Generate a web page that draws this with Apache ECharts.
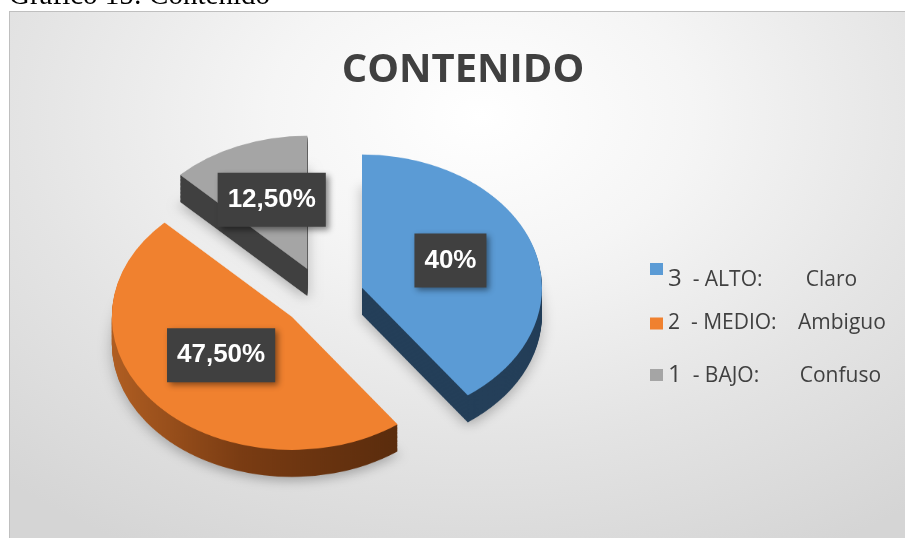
<!DOCTYPE html>
<html><head><meta charset="utf-8">
<script src="https://cdn.jsdelivr.net/npm/echarts@6/dist/echarts.min.js"></script>
<style>
html,body{margin:0;padding:0;background:#fff;width:905px;height:538px;overflow:hidden}
#frame{position:absolute;left:9px;top:11px;width:940px;height:580px;border:1px solid #BFBFBF;
 background:radial-gradient(ellipse 75% 85% at 50% 18%, #ffffff 0%, #f5f5f5 30%, #e4e4e4 65%, #d5d5d5 100%);}
#pie{position:absolute;left:0;top:0;width:905px;height:737px;transform:scaleY(0.74);transform-origin:0 0}
#main{position:absolute;left:0;top:0;width:905px;height:538px}
</style></head>
<body>
<div id="frame"></div>
<div id="pie"></div>
<div id="main"></div>
<script>
// ---- data ----
const digits = ['3', '2', '1'];
const levels = ['- ALTO:', '- MEDIO:', '- BAJO:'];
const descs = ['Claro', 'Ambiguo', 'Confuso'];
const names = ['3  - ALTO:      Claro', '2 - MEDIO:   Ambiguo', '1  - BAJO:    Confuso'];
const values = [40, 47.5, 12.5];
const valueLabels = ['40%', '47,50%', '12,50%'];
const titleText = 'CONTENIDO';
const captionText = 'Gráfico 15: Contenido';

// ---- style ----
const K = 0.74;            // vertical tilt of the 3D pie
const CX = 323, CY = 297;  // screen centre of the pie
const LCY = 291;           // centre used for placing the value boxes
const R = 180, OFF = 41, DEPTH = 27;
const topColors = ['#5B9BD5', '#F0812F', '#A5A5A5'];
const sideColors = [
  '#243F59',
  {type:'linear', x:0, y:0, x2:1, y2:0, colorStops:[
    {offset:0, color:'#B05E22'}, {offset:0.45, color:'#7A3C13'}, {offset:1, color:'#5A2C0D'}]},
  '#404040'
];

function pieSeries(cy, colors, z) {
  return {
    type:'pie', center:[CX, cy], radius:R, startAngle:90, clockwise:true,
    selectedMode:'multiple', selectedOffset:OFF, silent:true, animation:false,
    emphasis:{disabled:true}, label:{show:false}, labelLine:{show:false}, z:z,
    data: values.map((v,i)=>({value:v, name:names[i], selected:true,
      itemStyle:{color:colors[i], borderWidth:0}}))
  };
}

// pie drawn in a tilted (vertically squeezed) layer
const pieChart = echarts.init(document.getElementById('pie'), null, {renderer:'canvas'});
const cyA = CY / K;
const depthA = DEPTH / K;
const layers = [];
const steps = 30;
for (let s = steps; s >= 1; s--) {
  const ser = pieSeries(cyA + depthA * s / steps, sideColors, 2);
  if (s === steps) ser.data.forEach(d => {
    d.itemStyle.shadowBlur = 14; d.itemStyle.shadowColor = 'rgba(0,0,0,0.25)'; d.itemStyle.shadowOffsetY = 6;
  });
  layers.push(ser);
}
layers.push(pieSeries(cyA, topColors, 5));
pieChart.setOption({backgroundColor:'transparent', animation:false, series: layers});

// title, legend, labels in a normal layer
const chart = echarts.init(document.getElementById('main'), null, {renderer:'canvas'});
const aWidths = [124, 118, 118];
const digitSizes = [24, 21, 24];
const legendTops = [263, 313, 363];
const textPads = [[20,0,0,0], [0,0,0,0], [0,0,0,0]];
chart.setOption({
  backgroundColor:'transparent',
  animation:false,
  title:{text:titleText, left:463, top:51, textAlign:'center', padding:0,
    textStyle:{fontFamily:'Open Sans', fontWeight:'bold', fontSize:40, color:'#404040'}},
  graphic:[{type:'text', x:9, y:-4, silent:true,
    style:{text:captionText, fontFamily:'Liberation Serif', fontSize:29, fill:'#000', verticalAlign:'middle'}}],
  legend: [0,1,2].map(i => ({
    data:[{name:names[i], itemStyle:{color:topColors[i], opacity:1}}],
    left:650, top:legendTops[i], orient:'vertical', icon:'rect', itemWidth:13, itemHeight:12,
    selectedMode:false, padding:0,
    formatter: () => `{n|${digits[i]}}{a|  ${levels[i]}}{b|${descs[i]}}`,
    textStyle:{color:'#404040', fontFamily:'Open Sans', fontSize:21, padding:textPads[i],
      rich:{
        n:{fontSize:digitSizes[i], fontFamily:'Open Sans', color:'#404040', verticalAlign:'bottom'},
        a:{fontSize:21, width:aWidths[i], fontFamily:'Open Sans', color:'#404040', verticalAlign:'bottom'},
        b:{fontSize:21, fontFamily:'Open Sans', color:'#404040', verticalAlign:'bottom'}
      }}
  })),
  series:[{
    type:'pie', center:[CX, LCY], radius:R, startAngle:90, clockwise:true,
    selectedMode:'multiple', selectedOffset:OFF, silent:true, animation:false,
    emphasis:{disabled:true}, labelLine:{show:false},
    itemStyle:{color:'rgba(0,0,0,0)', borderWidth:0},
    label:{show:true, position:'inside', formatter:p => valueLabels[p.dataIndex],
      color:'#fff', fontFamily:'Liberation Sans', fontWeight:'bold', fontSize:26, lineHeight:26,
      backgroundColor:'#404040', padding:[14,10,14,10],
      shadowColor:'rgba(0,0,0,0.45)', shadowBlur:6, shadowOffsetX:3, shadowOffsetY:3},
    labelLayout: function (params) {
      const r = params.labelRect;
      // label sits at half radius; scale to the exploded position, then tilt it
      const c = LCY + (r.y + r.height / 2 - LCY) * (R / 2 + OFF) / (R / 2);
      return {dy: (c - LCY) * (K - 1)};
    },
    data: values.map((v,i)=>({value:v, name:names[i], selected:true}))
  }]
});
</script>
</body></html>
